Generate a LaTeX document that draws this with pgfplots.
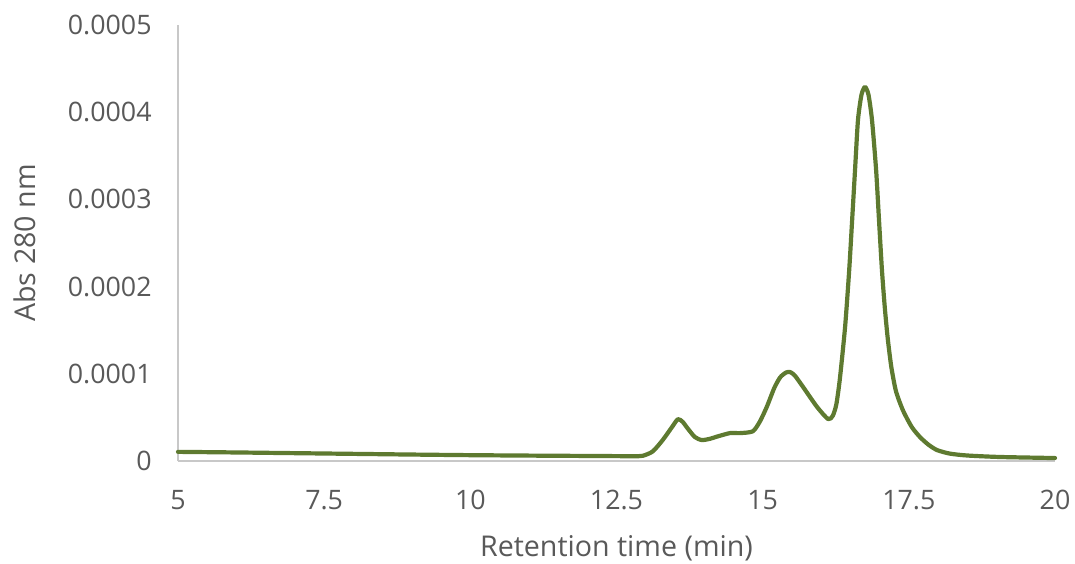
\documentclass[border=0pt]{standalone}
\usepackage{pgfplots}
\pgfplotsset{compat=1.18}
\usepackage{fontspec}
\setmainfont{Open Sans}
\definecolor{linegreen}{RGB}{94,122,48}
\definecolor{txtgray}{RGB}{89,89,89}
\definecolor{axgray}{RGB}{200,200,200}
\begin{document}
\begin{tikzpicture}
\useasboundingbox (-89pt,-51pt) rectangle (448.5pt,230.5pt);
\begin{axis}[
  at={(0,0)}, anchor=south west,
  scale only axis, width=438.5pt, height=218pt,
  xmin=5, xmax=20, ymin=0, ymax=0.0005,
  axis x line=bottom, axis y line=left,
  axis line style={draw=axgray, line width=0.8pt, -},
  major tick length=0pt,
  xtick={5,7.5,10,12.5,15,17.5,20},
  xticklabels={5,7.5,10,12.5,15,17.5,20},
  ytick={0,0.0001,0.0002,0.0003,0.0004,0.0005},
  yticklabels={0,0.0001,0.0002,0.0003,0.0004,0.0005},
  scaled y ticks=false,
  tick label style={font=\fontsize{13.4}{15}\selectfont, text=txtgray},
  yticklabel style={anchor=east, inner sep=0pt, xshift=-13pt},
  xticklabel style={anchor=center, inner sep=0pt, yshift=-19.5pt},
  xlabel={Retention time (min)},
  ylabel={Abs 280 nm},
  label style={font=\fontsize{14.3}{16}\selectfont, text=txtgray},
  xlabel style={at={(axis description cs:0.5,-0.1995)}, anchor=center},
  ylabel style={at={(axis description cs:-0.1745,0.5)}, anchor=center, rotate=0},
  clip=false,
]
\addplot[linegreen, line width=2.1pt, smooth, tension=0.4, line join=round, line cap=round] coordinates {
(5.0,1.05e-5) (6.0,0.98e-5) (7.0,0.90e-5) (8.0,0.82e-5) (9.0,0.74e-5) (10.0,0.67e-5)
(11.0,0.62e-5) (12.0,0.58e-5) (12.5,0.56e-5) (12.8,0.55e-5) (12.95,0.6e-5) (13.12,1.1e-5)
(13.29,2.4e-5) (13.45,3.9e-5) (13.55,4.8e-5) (13.63,4.5e-5) (13.71,3.8e-5) (13.84,2.75e-5)
(13.96,2.4e-5) (14.1,2.55e-5) (14.22,2.8e-5) (14.44,3.2e-5) (14.61,3.2e-5) (14.83,3.4e-5)
(14.95,4.5e-5) (15.07,6.2e-5) (15.2,8.4e-5) (15.3,9.6e-5) (15.4,1.015e-4) (15.47,1.02e-4) (15.55,9.8e-5)
(15.69,8.5e-5) (15.93,6.2e-5) (16.12,4.8e-5) (16.2,5.2e-5) (16.26,6.5e-5) (16.32,9.4e-5)
(16.41,1.54e-4) (16.48,2.19e-4) (16.53,2.76e-4) (16.58,3.34e-4) (16.63,3.91e-4) (16.69,4.2e-4)
(16.75,4.29e-4) (16.81,4.2e-4) (16.87,3.91e-4) (16.94,3.34e-4) (16.99,2.76e-4) (17.04,2.19e-4)
(17.09,1.75e-4) (17.14,1.4e-4) (17.2,1.08e-4) (17.28,8.0e-5) (17.40,5.8e-5) (17.55,3.9e-5) (17.69,2.75e-5) (17.83,1.9e-5) (17.98,1.26e-5)
(18.2,8.5e-6) (18.5,6.3e-6) (19.06,4.6e-6) (20,3.4e-6)
};
\end{axis}
\end{tikzpicture}
\end{document}
